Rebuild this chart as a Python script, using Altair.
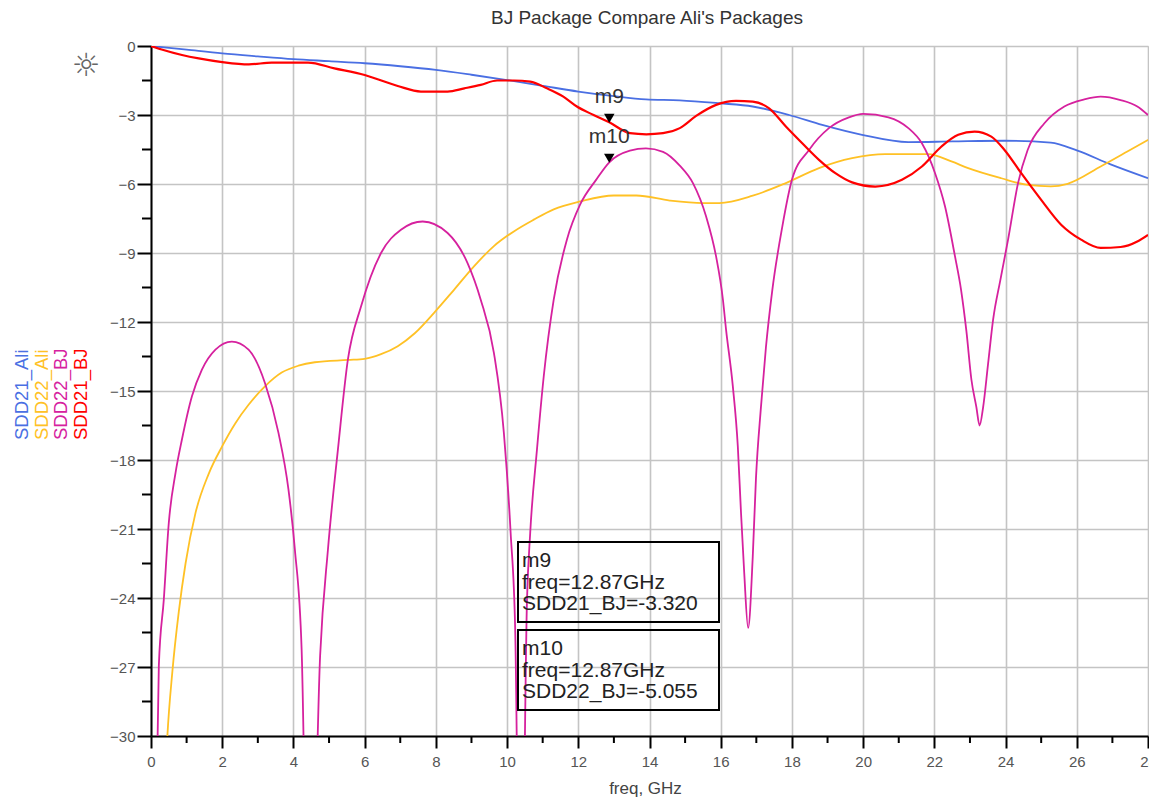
import altair as alt
import pandas as pd

# ---------------- data ----------------
series_names = ["SDD21_Ali", "SDD22_Ali", "SDD22_BJ", "SDD21_BJ"]
series_colors = ["#4a6fe3", "#ffc125", "#d6219e", "#ff0000"]

freq_sdd21_ali = [0, 1, 2, 3, 4, 5, 6, 7, 8, 9, 10, 11, 12, 13, 13.9, 14.85, 15.96,
                  16.9, 17.92, 18.85, 19.97, 21.27, 22.5, 23.97, 25.27, 26.02, 26.95, 28]
sdd21_ali = [0, -0.16, -0.32, -0.45, -0.57, -0.66, -0.75, -0.88, -1.04, -1.25, -1.48,
             -1.73, -1.98, -2.18, -2.32, -2.36, -2.49, -2.63, -3.0, -3.43, -3.86, -4.18,
             -4.15, -4.12, -4.2, -4.55, -5.15, -5.75]

freq_sdd22_ali = [0.3, 0.46, 0.6, 0.78, 0.97, 1.25, 1.62, 2.0, 2.37, 2.74, 3.2, 3.67,
                  4.14, 4.6, 5.53, 6.0, 6.46, 6.93, 7.4, 7.95, 8.51, 9.07, 9.63, 10.19,
                  10.75, 11.31, 12.05, 13.0, 13.63, 14.57, 15.5, 15.96, 16.9, 17.83,
                  18.76, 19.69, 20.62, 21.83, 22.48, 22.95, 23.88, 24.62, 25.27, 25.74,
                  26.67, 27.42, 28]
sdd22_ali = [-36, -30, -27.2, -24.6, -22.5, -20.3, -18.6, -17.4, -16.4, -15.6, -14.8,
             -14.2, -13.9, -13.75, -13.65, -13.6, -13.4, -13.05, -12.5, -11.6, -10.6,
             -9.58, -8.7, -8.06, -7.55, -7.1, -6.76, -6.5, -6.5, -6.72, -6.83, -6.83,
             -6.51, -5.96, -5.31, -4.88, -4.7, -4.7, -5.02, -5.31, -5.75, -6.04, -6.1,
             -5.99, -5.24, -4.59, -4.08]

freq_sdd22_bj = [0.02, 0.22, 0.36, 0.5, 0.69, 0.87, 1.15, 1.43, 1.81, 2.27, 2.74, 3.2,
                 3.58, 3.86, 4.04, 4.23, 4.45, 4.75, 4.97, 5.25, 5.53, 5.9, 6.46, 7.02,
                 7.63, 8.33, 8.89, 9.26, 9.63, 9.91, 10.1, 10.23, 10.38, 10.56, 10.65,
                 10.84, 11.03, 11.31, 11.68, 12.05, 12.5, 12.87, 13.45, 13.9, 14.38,
                 14.85, 15.22, 15.59, 15.87, 16.06, 16.15, 16.34, 16.48, 16.57, 16.66,
                 16.77, 16.9, 16.99, 17.13, 17.27, 17.45, 17.73, 18.0, 18.48, 19.04,
                 19.6, 20.0, 20.71, 21.27, 21.65, 22.02, 22.3, 22.58, 22.75, 22.9,
                 23.04, 23.18, 23.27, 23.37, 23.51, 23.65, 23.85, 24.07, 24.35, 24.62,
                 25.09, 25.65, 26.21, 26.67, 27.23, 27.7, 28]
sdd22_bj = [-45, -26.95, -24.06, -20.73, -18.55, -17.1, -15.23, -14.07, -13.2, -12.85,
            -13.2, -14.65, -16.82, -19.28, -21.88, -26.23, -42, -26.5, -21.88, -17.54,
            -13.63, -11.32, -9.0, -7.99, -7.63, -8.13, -9.44, -11.03, -13.34, -16.82,
            -21.16, -25.5, -42, -24.06, -21.16, -17.54, -14.36, -11.03, -8.42, -6.9,
            -5.82, -5.055, -4.55, -4.45, -4.6, -5.2, -5.96, -7.41, -9.15, -11.0, -12.33,
            -14.79, -17.4, -20.29, -22.9, -25.3, -22.2, -18.8, -15.7, -13.1, -10.6,
            -7.85, -5.82, -4.52, -3.57, -3.1, -2.95, -3.1, -3.57, -4.23, -5.53, -6.98,
            -9.15, -10.6, -12.4, -14.5, -15.7, -16.5, -15.7, -13.8, -11.9, -10.2, -8.42,
            -5.96, -4.52, -3.36, -2.63, -2.32, -2.2, -2.35, -2.63, -3.0]

freq_sdd21_bj = [0, 0.3, 0.87, 1.34, 2.0, 2.75, 3.39, 4.41, 5.15, 6.0, 6.93, 7.58, 8.33,
                 8.8, 9.26, 9.72, 10.19, 10.65, 11.12, 11.58, 11.96, 12.43, 12.87, 13.45,
                 13.91, 14.38, 14.85, 15.31, 15.87, 16.43, 16.9, 17.36, 17.83, 18.29,
                 18.76, 19.22, 19.69, 20.34, 21.09, 21.65, 22.2, 22.67, 23.13, 23.6,
                 23.97, 24.44, 25.0, 25.56, 26.12, 26.67, 27.23, 27.7, 28]
sdd21_bj = [0, -0.15, -0.39, -0.54, -0.7, -0.8, -0.72, -0.72, -0.97, -1.26, -1.74,
            -1.98, -1.98, -1.84, -1.69, -1.5, -1.5, -1.55, -1.84, -2.2, -2.63, -3.0,
            -3.32, -3.79, -3.84, -3.79, -3.57, -3.04, -2.56, -2.39, -2.42, -2.71, -3.5,
            -4.23, -4.95, -5.53, -5.93, -6.11, -5.82, -5.24, -4.37, -3.86, -3.72, -3.94,
            -4.52, -5.53, -6.69, -7.77, -8.42, -8.78, -8.74, -8.5, -8.21]

marker_names = ["m9", "m10"]
marker_series = ["SDD21_BJ", "SDD22_BJ"]
marker_freq = [12.87, 12.87]
marker_value = [-3.320, -5.055]

x_major = list(range(0, 29, 2))
x_minor = list(range(1, 28, 2))
y_major = list(range(-30, 1, 3))
y_minor = [v + 1.5 for v in range(-30, 0, 3)]

title_text = "BJ Package Compare Ali's Packages"
x_title = "freq, GHz"

# ---------------- chart ----------------
FONT = "Liberation Sans"
W, H = 997, 690

xs = alt.Scale(domain=[0, 28], nice=False, zero=False)
ys = alt.Scale(domain=[-30, 0], nice=False, zero=False)

x_axis = alt.Axis(values=x_major, grid=True, gridColor="#c4c4c4", gridWidth=1.6,
                  tickSize=12, tickWidth=2, tickColor="black", domainColor="black",
                  domainWidth=2, labelFont=FONT, labelFontSize=15, labelColor="#555555",
                  labelPadding=6, labelFlush=False, labelOverlap=False,
                  title=x_title, titleFont=FONT, titleFontSize=17,
                  titleFontWeight="normal", titleColor="#444444", titleX=494,
                  titleY=52, titleBaseline="middle", titleAlign="center")
y_axis = alt.Axis(values=y_major, grid=True, gridColor="#c4c4c4", gridWidth=1.6,
                  tickSize=14, tickWidth=2, tickColor="black", domainColor="black",
                  domainWidth=2, labelFont=FONT, labelFontSize=15, labelColor="#555555",
                  labelPadding=2, labelFlush=False, labelOverlap=False, title=None)

series_data = {
    "SDD21_Ali": (freq_sdd21_ali, sdd21_ali),
    "SDD22_Ali": (freq_sdd22_ali, sdd22_ali),
    "SDD22_BJ": (freq_sdd22_bj, sdd22_bj),
    "SDD21_BJ": (freq_sdd21_bj, sdd21_bj),
}

layers = []
for i, name in enumerate(series_names):
    fs, vs = series_data[name]
    d = pd.DataFrame({"freq": fs, "dB": vs, "series": name})
    layers.append(
        alt.Chart(d).mark_line(clip=True, interpolate="monotone",
                               strokeWidth=2.2 if name == "SDD21_BJ" else 1.8,
                               color=series_colors[i]).encode(
            x=alt.X("freq:Q", scale=xs, axis=x_axis),
            y=alt.Y("dB:Q", scale=ys, axis=y_axis),
        )
    )

# minor ticks
minor_x = alt.Chart(pd.DataFrame({"t": x_minor})).mark_rule(color="black", strokeWidth=2).encode(
    x=alt.X("t:Q", scale=xs), y=alt.value(H), y2=alt.value(H + 7))
minor_y = alt.Chart(pd.DataFrame({"t": y_minor})).mark_rule(color="black", strokeWidth=2).encode(
    y=alt.Y("t:Q", scale=ys), x=alt.value(0), x2=alt.value(-9))
layers += [minor_x, minor_y]

# markers
mk = pd.DataFrame({"name": marker_names, "series": marker_series,
                   "freq": marker_freq, "val": marker_value})
mk["line2"] = ["freq=%.2fGHz" % f for f in marker_freq]
mk["line3"] = ["%s=%.3f" % (s, v) for s, v in zip(marker_series, marker_value)]

tri = alt.Chart(mk).mark_point(shape="triangle-down", filled=True, color="black",
                               size=110, opacity=1, yOffset=-4).encode(
    x=alt.X("freq:Q", scale=xs), y=alt.Y("val:Q", scale=ys))
tri_lab = alt.Chart(mk).mark_text(font=FONT, fontSize=21, color="#333333", dy=-25,
                                  align="center", baseline="middle").encode(
    x=alt.X("freq:Q", scale=xs), y=alt.Y("val:Q", scale=ys), text="name:N")
layers += [tri, tri_lab]

# readout boxes
box_top = [496, 584]
for i in range(len(marker_names)):
    one = mk.iloc[[i]]
    t0 = box_top[i]
    layers.append(alt.Chart(one).mark_rect(fill=None, stroke="black", strokeWidth=2).encode(
        x=alt.value(367), x2=alt.value(568), y=alt.value(t0), y2=alt.value(t0 + 80)))
    for j, col in enumerate(["name", "line2", "line3"]):
        layers.append(alt.Chart(one).mark_text(font=FONT, fontSize=21, color="#222222",
                                               align="left", baseline="middle").encode(
            x=alt.value(371), y=alt.value(t0 + 19 + 21.5 * j), text=f"{col}:N"))

# vertical legend on the left
for i, name in enumerate(series_names):
    layers.append(alt.Chart(pd.DataFrame({"s": [name]})).mark_text(
        font=FONT, fontSize=18.5, color=series_colors[i], angle=270, align="left",
        baseline="middle").encode(
        x=alt.value(-129 + 19.5 * i), y=alt.value(394), text="s:N"))

# sun icon
layers.append(alt.Chart(pd.DataFrame({"s": ["\u263c"]})).mark_text(
    font="DejaVu Sans", fontSize=32, color="#666666", align="center",
    baseline="middle").encode(x=alt.value(-65), y=alt.value(20), text="s:N"))

# title
layers.append(alt.Chart(pd.DataFrame({"s": [title_text]})).mark_text(
    font=FONT, fontSize=19, color="#333333", align="center",
    baseline="middle").encode(x=alt.value(496), y=alt.value(-28), text="s:N"))

chart = alt.layer(*layers).properties(
    width=W, height=H,
    autosize=alt.AutoSizeParams(type="none"),
    padding={"left": 143, "top": 38, "right": 1, "bottom": 62},
).configure_view(stroke="black", strokeWidth=2).configure(background="white")

chart.save("out.html", embed_options={"renderer": "svg", "actions": False})
